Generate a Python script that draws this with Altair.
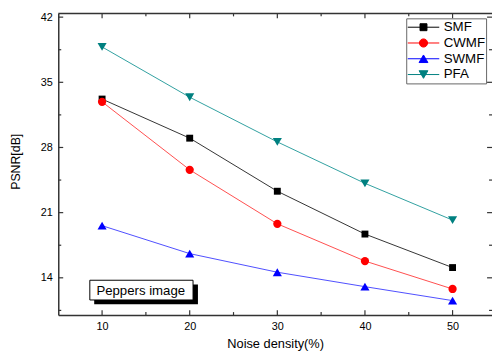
import altair as alt
import pandas as pd

# ---- data ----
noise = [10, 20, 30, 40, 50]
smf = [33.2, 29.0, 23.3, 18.7, 15.1]
cwmf = [32.9, 25.6, 19.8, 15.8, 12.8]
swmf = [19.6, 16.6, 14.6, 13.05, 11.55]
pfa = [38.8, 33.4, 28.6, 24.15, 20.2]

series_names = ["SMF", "CWMF", "SWMF", "PFA"]
series_values = [smf, cwmf, swmf, pfa]
marker_colors = ["#000000", "#ff0000", "#0000ff", "#008080"]
line_colors = ["#333333", "#ff4d4d", "#4d4dff", "#2f9f9f"]
marker_shapes = ["square", "circle", "triangle-up", "triangle-down"]
marker_sizes = [49, 70, 85, 85]

# legend symbols: short line with the marker on it
legend_paths = [
    "M-1,0H1M-0.22,-0.22H0.22V0.22H-0.22Z",
    "M-1,0H1M0.26,0A0.26,0.26,0,1,1,-0.26,0A0.26,0.26,0,1,1,0.26,0Z",
    "M-1,0H1M0,-0.24L0.28,0.24L-0.28,0.24Z",
    "M-1,0H1M0,0.24L0.28,-0.24L-0.28,-0.24Z",
]

x_major = [10, 20, 30, 40, 50]
x_minor = [15, 25, 35, 45]
y_major = [14, 21, 28, 35, 42]
y_minor = [10.5, 17.5, 24.5, 31.5, 38.5]

note_text = ["Peppers image"]
note_box = {"x1": [8.6], "x2": [20.38], "y1": [11.62], "y2": [13.74]}
note_shadow = {"x1": [9.1], "x2": [20.94], "y1": [11.16], "y2": [13.28]}
note_pos = {"x": [9.35], "y": [12.15]}

# ---- layout ----
W, H = 440, 306
FONT = "Liberation Sans"
AX = "#333333"

xs = alt.Scale(domain=[5, 54.5], nice=False, zero=False)
ys = alt.Scale(domain=[10, 42.4], nice=False, zero=False)

rows = []
for name, vals in zip(series_names, series_values):
    for n, v in zip(noise, vals):
        rows.append({"noise": n, "psnr": v, "series": name})
df = pd.DataFrame(rows)

x_axis = alt.Axis(values=x_major, title="Noise density(%)", ticks=False, grid=False,
                  domain=True, domainColor=AX, domainWidth=1.5, format="d",
                  labelFont=FONT, labelFontSize=11, labelColor="#000000", labelPadding=6,
                  titleFont=FONT, titleFontSize=13, titleFontWeight="normal", titleColor="#000000",
                  titleBaseline="alphabetic", titleY=32.5)
y_axis = alt.Axis(values=y_major, title="PSNR[dB]", ticks=False, grid=False,
                  domain=True, domainColor=AX, domainWidth=1.5, format="d",
                  labelFont=FONT, labelFontSize=11, labelColor="#000000", labelPadding=6,
                  titleFont=FONT, titleFontSize=12.5, titleFontWeight="normal", titleColor="#000000",
                  titleAngle=270, titleAlign="center", titleBaseline="alphabetic",
                  titleX=-39.5, titleY=150)


def X(field):
    return alt.X(field, scale=xs, axis=x_axis)


def Y(field):
    return alt.Y(field, scale=ys, axis=y_axis)


layers = []

# annotation box with shadow
layers.append(alt.Chart(pd.DataFrame(note_shadow)).mark_rect(color="#000000").encode(
    x=X("x1:Q"), x2="x2:Q", y=Y("y1:Q"), y2="y2:Q"))
layers.append(alt.Chart(pd.DataFrame(note_box)).mark_rect(fill="#ffffff", stroke="#000000", strokeWidth=1).encode(
    x=X("x1:Q"), x2="x2:Q", y=Y("y1:Q"), y2="y2:Q"))
note_df = pd.DataFrame({"x": note_pos["x"], "y": note_pos["y"], "t": note_text})
layers.append(alt.Chart(note_df).mark_text(align="left", baseline="alphabetic", font=FONT,
                                            fontSize=13.4, color="#000000").encode(
    x=X("x:Q"), y=Y("y:Q"), text="t:N"))

# series lines and markers
for name, lc in zip(series_names, line_colors):
    sub = df[df["series"] == name]
    layers.append(alt.Chart(sub).mark_line(color=lc, strokeWidth=1).encode(
        x=X("noise:Q"), y=Y("psnr:Q")))
for name, mc, shp, sz in zip(series_names, marker_colors, marker_shapes, marker_sizes):
    sub = df[df["series"] == name]
    layers.append(alt.Chart(sub).mark_point(filled=True, shape=shp, size=sz, color=mc, opacity=1).encode(
        x=X("noise:Q"), y=Y("psnr:Q")))


# inward ticks on all four sides
def xticks(vals, y0, y1):
    return alt.Chart(pd.DataFrame({"v": vals})).mark_rule(color=AX, strokeWidth=1.2).encode(
        x=X("v:Q"), y=alt.value(y0), y2=alt.value(y1))


def yticks(vals, x0, x1):
    return alt.Chart(pd.DataFrame({"v": vals})).mark_rule(color=AX, strokeWidth=1.2).encode(
        y=Y("v:Q"), x=alt.value(x0), x2=alt.value(x1))


layers += [
    xticks(x_major, H, H - 5), xticks(x_minor, H, H - 3),
    xticks(x_major, 0, 5), xticks(x_minor, 0, 3),
    yticks(y_major, 0, 5), yticks(y_minor, 0, 3),
    yticks(y_major, W, W - 5), yticks(y_minor, W, W - 3),
]

# top frame line
layers.append(alt.Chart(pd.DataFrame({"a": [0]})).mark_rule(color=AX, strokeWidth=1.5).encode(
    x=alt.value(0), x2=alt.value(W), y=alt.value(0)))

# legend-only layer (no data drawn)
legend_layer = alt.Chart(df).mark_point(filled=True, strokeWidth=1).encode(
    fill=alt.Fill("series:N", scale=alt.Scale(domain=series_names, range=marker_colors), title=None),
    stroke=alt.Stroke("series:N", scale=alt.Scale(domain=series_names, range=marker_colors), title=None),
    shape=alt.Shape("series:N", scale=alt.Scale(domain=series_names, range=legend_paths), title=None),
).transform_filter("false")
layers.append(legend_layer)

chart = alt.layer(*layers).properties(
    width=W, height=H,
    autosize=alt.AutoSizeParams(type="none"),
    padding={"left": 51, "top": 3, "right": 0, "bottom": 36},
).configure_view(stroke=None).configure_legend(
    orient="none", legendX=353, legendY=5,
    padding=1, strokeColor="#666666", fillColor="#ffffff", cornerRadius=0,
    labelFont=FONT, labelFontSize=13.5, labelColor="#000000", labelOffset=4,
    symbolSize=1024, symbolStrokeWidth=1, symbolOffset=0, clipHeight=16, rowPadding=0,
    symbolOpacity=1,
)

chart.save("out.html", embed_options={"renderer": "svg", "actions": False})
